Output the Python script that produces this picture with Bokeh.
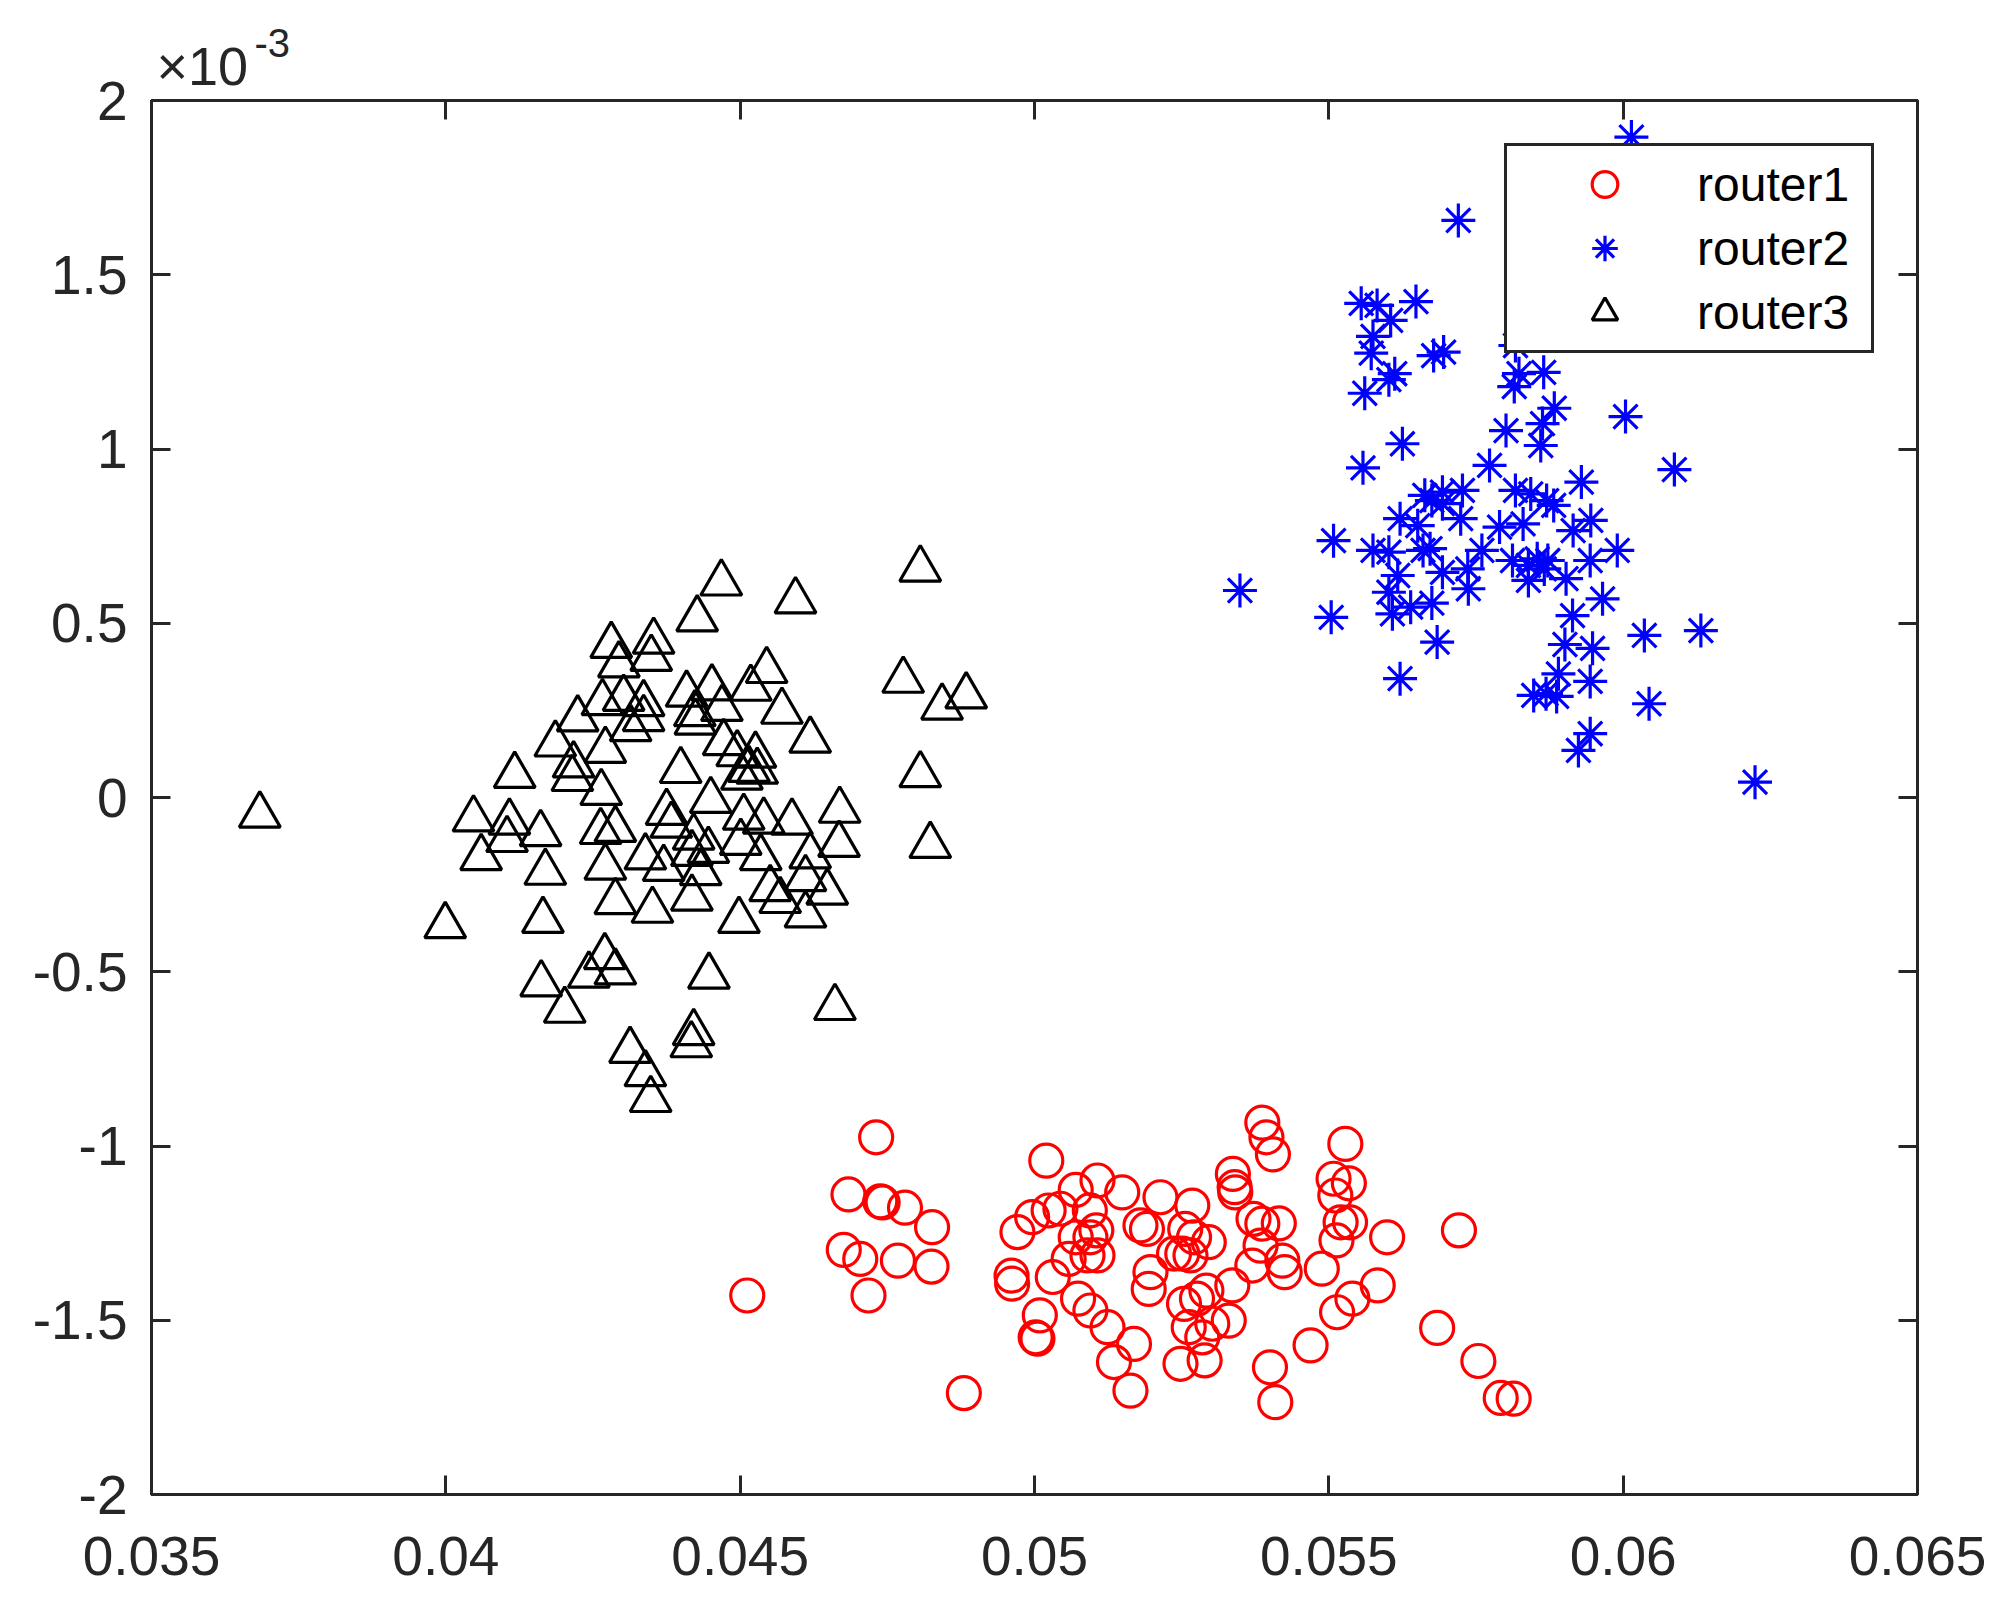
from bokeh.plotting import figure
from bokeh.models import (Range1d, FixedTicker, LinearAxis, Label, Legend, LegendItem,
                          CustomJSTickFormatter)
from bokeh.embed import file_html
from bokeh.resources import INLINE

# ---- data (y values are in units of 1e-3, as on the axis) ----
router1_x = [0.04731, 0.04684, 0.04738, 0.04742, 0.04780, 0.04826, 0.04676, 0.04704, 0.04768, 0.04825,
             0.04512, 0.04718, 0.04880, 0.05020, 0.05070, 0.05107, 0.05149, 0.05044, 0.05024, 0.04996,
             0.04971, 0.05094, 0.05070, 0.05105, 0.05095, 0.05058, 0.05090, 0.05107, 0.04961, 0.04962,
             0.05031, 0.05074, 0.05095, 0.05009, 0.05002, 0.05005, 0.05124, 0.05169, 0.05135, 0.05163,
             0.05387, 0.05394, 0.05405, 0.05528, 0.05337, 0.05340, 0.05341, 0.05508, 0.05534, 0.05511,
             0.05214, 0.05268, 0.05180, 0.05191, 0.05256, 0.05271, 0.05296, 0.05372, 0.05387, 0.05415,
             0.05384, 0.05520, 0.05536, 0.05513, 0.05599, 0.05721, 0.05237, 0.05251, 0.05265, 0.05197,
             0.05194, 0.05370, 0.05421, 0.05425, 0.05488, 0.05336, 0.05254, 0.05276, 0.05292, 0.05330,
             0.05262, 0.05285, 0.05302, 0.05248, 0.05289, 0.05400, 0.05409, 0.05469, 0.05514, 0.05540,
             0.05583, 0.05684, 0.05754, 0.05792, 0.05814]
router1_y = [-0.975, -1.139, -1.159, -1.162, -1.177, -1.233, -1.298, -1.324, -1.329, -1.346,
             -1.429, -1.429, -1.709, -1.042, -1.126, -1.099, -1.133, -1.180, -1.185, -1.204,
             -1.247, -1.185, -1.262, -1.242, -1.262, -1.324, -1.314, -1.314, -1.372, -1.395,
             -1.376, -1.438, -1.472, -1.486, -1.549, -1.553, -1.520, -1.568, -1.620, -1.702,
             -0.933, -0.975, -1.024, -0.994, -1.080, -1.118, -1.133, -1.094, -1.107, -1.142,
             -1.147, -1.171, -1.228, -1.238, -1.238, -1.262, -1.276, -1.209, -1.223, -1.222,
             -1.286, -1.219, -1.219, -1.271, -1.262, -1.242, -1.309, -1.309, -1.314, -1.362,
             -1.410, -1.343, -1.329, -1.362, -1.352, -1.400, -1.453, -1.438, -1.415, -1.501,
             -1.520, -1.549, -1.510, -1.625, -1.615, -1.635, -1.735, -1.572, -1.477, -1.438,
             -1.400, -1.522, -1.617, -1.723, -1.725]

router2_x = [0.05720, 0.05555, 0.05582, 0.05648, 0.05605, 0.05575, 0.05572, 0.05678, 0.05695, 0.05612,
             0.05602, 0.05561, 0.05823, 0.05815, 0.05865, 0.05625, 0.05558, 0.05801, 0.05773, 0.05727,
             0.05817, 0.05863, 0.05860, 0.05883, 0.06004, 0.06087, 0.05929, 0.05843, 0.05882, 0.06014,
             0.05817, 0.05693, 0.05663, 0.05675, 0.05693, 0.05870, 0.05621, 0.05724, 0.05651, 0.05790,
             0.05830, 0.05915, 0.05945, 0.05508, 0.05575, 0.05602, 0.05660, 0.05672, 0.05760, 0.05990,
             0.05944, 0.05812, 0.05839, 0.05854, 0.05866, 0.05872, 0.05617, 0.05693, 0.05736, 0.05839,
             0.05903, 0.05965, 0.05602, 0.05737, 0.05639, 0.05608, 0.05675, 0.05349, 0.05504, 0.05914,
             0.05684, 0.06036, 0.06132, 0.05901, 0.05948, 0.05621, 0.05890, 0.05944, 0.05848, 0.05869,
             0.05887, 0.06044, 0.05944, 0.05924, 0.06224]
router2_y = [1.656, 1.418, 1.412, 1.423, 1.369, 1.323, 1.275, 1.268, 1.278, 1.216,
             1.199, 1.160, 1.216, 1.179, 1.220, 1.015, 0.946, 1.053, 0.953, 0.881,
             0.881, 1.073, 1.010, 1.117, 1.093, 0.941, 0.905, 0.871, 0.838, 1.895,
             1.297, 0.876, 0.867, 0.852, 0.843, 0.852, 0.800, 0.800, 0.780, 0.776,
             0.785, 0.766, 0.795, 0.737, 0.709, 0.704, 0.709, 0.714, 0.709, 0.709,
             0.680, 0.680, 0.666, 0.685, 0.656, 0.680, 0.637, 0.646, 0.656, 0.623,
             0.628, 0.570, 0.589, 0.599, 0.546, 0.527, 0.558, 0.594, 0.517, 0.522,
             0.446, 0.465, 0.479, 0.439, 0.428, 0.341, 0.355, 0.333, 0.293, 0.298,
             0.290, 0.269, 0.183, 0.135, 0.044]

router3_x = [0.03684, 0.04117, 0.04047, 0.04108, 0.04104, 0.04161, 0.04281, 0.04294, 0.04266, 0.04302,
             0.04224, 0.04186, 0.04217, 0.04215, 0.04271, 0.04264, 0.04263, 0.04288, 0.04353, 0.04349,
             0.04336, 0.04314, 0.04336, 0.04060, 0.04169, 0.04271, 0.04288, 0.04351, 0.04339, 0.04375,
             0.04165, 0.04468, 0.04594, 0.04427, 0.04806, 0.04545, 0.04452, 0.04409, 0.04518, 0.04571,
             0.04423, 0.04472, 0.04526, 0.04495, 0.04515, 0.04529, 0.04619, 0.04399, 0.04777, 0.04843,
             0.04884, 0.04806, 0.04669, 0.04668, 0.04823, 0.04450, 0.04506, 0.04540, 0.04588, 0.04501,
             0.04469, 0.04424, 0.04503, 0.04421, 0.04446, 0.04418, 0.04535, 0.04619, 0.04551, 0.04568,
             0.04648, 0.04611, 0.04498, 0.04611, 0.03999, 0.04162, 0.04202, 0.04243, 0.04270, 0.04288,
             0.04447, 0.04661, 0.04313, 0.04339, 0.04348, 0.04421, 0.04417, 0.04433, 0.04418, 0.04370,
             0.04383]
router3_y = [-0.051, 0.063, -0.062, -0.071, -0.121, -0.104, 0.436, 0.380, 0.272, 0.284,
             0.225, 0.153, 0.093, 0.054, 0.135, 0.014, -0.098, -0.092, 0.448, 0.399,
             0.269, 0.197, 0.226, -0.173, -0.215, -0.200, -0.299, -0.324, -0.171, -0.043,
             -0.353, 0.615, 0.564, 0.512, 0.655, 0.364, 0.314, 0.296, 0.313, 0.247,
             0.240, 0.157, 0.121, 0.125, 0.080, 0.075, 0.164, 0.077, 0.336, 0.259,
             0.291, 0.065, -0.037, -0.135, -0.138, -0.009, -0.057, -0.068, -0.071, -0.129,
             0.255, 0.216, 0.058, -0.114, -0.152, -0.289, -0.173, -0.168, -0.262, -0.296,
             -0.272, -0.233, -0.353, -0.337, -0.368, -0.535, -0.611, -0.510, -0.457, -0.501,
             -0.513, -0.603, -0.726, -0.793, -0.867, -0.675, -0.710, -0.216, -0.161, -0.204,
             -0.080]

series_names = ["router1", "router2", "router3"]
x_ticks = [0.035, 0.04, 0.045, 0.05, 0.055, 0.06, 0.065]
x_tick_labels = ["0.035", "0.04", "0.045", "0.05", "0.055", "0.06", "0.065"]
y_ticks = [-2, -1.5, -1, -0.5, 0, 0.5, 1, 1.5, 2]
y_tick_labels = ["-2", "-1.5", "-1", "-0.5", "0", "0.5", "1", "1.5", "2"]
y_exponent_text = ["\u00d710", "-3"]

AX = "#262626"
FONT = "Liberation Sans"
FW, FH = 1766, 1394

p = figure(frame_width=FW, frame_height=FH,
           min_border_left=151, min_border_right=80, min_border_top=100, min_border_bottom=100,
           x_range=Range1d(0.035, 0.065), y_range=Range1d(-2, 2),
           output_backend="svg", toolbar_location=None)
p.background_fill_color = "white"
p.border_fill_color = "white"
p.outline_line_color = AX
p.outline_line_width = 3
p.grid.visible = False

def fmt(vals, labels):
    return CustomJSTickFormatter(args=dict(vals=vals, labels=labels), code="""
        for (let i = 0; i < vals.length; i++) {
            if (Math.abs(vals[i] - tick) < 1e-9) return labels[i];
        }
        return String(tick);
    """)

def style_axis(ax, show_labels, standoff=0):
    ax.axis_line_color = AX
    ax.axis_line_width = 3
    ax.major_tick_line_color = AX
    ax.major_tick_line_width = 3
    ax.major_tick_in = 19
    ax.major_tick_out = 0
    ax.minor_tick_line_color = None
    ax.major_label_text_font = FONT
    ax.major_label_text_color = AX
    ax.major_label_standoff = standoff
    if show_labels:
        ax.major_label_text_font_size = "55px"
    else:
        ax.major_label_text_font_size = "0px"
        ax.major_label_text_alpha = 0

xa = p.xaxis[0]
xa.ticker = FixedTicker(ticks=x_ticks)
xa.formatter = fmt(x_ticks, x_tick_labels)
style_axis(xa, True, 42)
ya = p.yaxis[0]
ya.ticker = FixedTicker(ticks=y_ticks)
ya.formatter = fmt(y_ticks, y_tick_labels)
style_axis(ya, True, 24)

top_ax = LinearAxis(ticker=FixedTicker(ticks=x_ticks))
style_axis(top_ax, False, 0)
p.add_layout(top_ax, "above")
right_ax = LinearAxis(ticker=FixedTicker(ticks=y_ticks))
style_axis(right_ax, False, 0)
p.add_layout(right_ax, "right")

r1 = p.scatter(router1_x, router1_y, marker="circle", size=33, fill_alpha=0,
               line_color="#FF0000", line_width=3.2)
r2 = p.scatter(router2_x, router2_y, marker="asterisk", size=34,
               line_color="#0000FF", line_width=3.2)
r3 = p.scatter(router3_x, router3_y, marker="triangle", size=41, fill_alpha=0,
               line_color="#000000", line_width=3.2)

legend = Legend(items=[LegendItem(label=series_names[0], renderers=[r1]),
                       LegendItem(label=series_names[1], renderers=[r2]),
                       LegendItem(label=series_names[2], renderers=[r3])],
                location="top_right", margin=43, padding=6, spacing=0,
                glyph_width=183, glyph_height=64, label_standoff=1,
                label_width=168, label_height=20,
                label_text_font=FONT, label_text_font_size="48px", label_text_color="#000000",
                border_line_color=AX, border_line_width=3, border_line_alpha=1.0,
                background_fill_color="white", background_fill_alpha=1.0)
p.add_layout(legend)

# exponent of the y axis, placed in the panel above the frame (not clipped)
p.add_layout(Label(x=x_ticks[0], y=0, x_units="data", y_units="screen",
                   x_offset=5, y_offset=35, text=y_exponent_text[0],
                   text_font=FONT, text_font_size="54px", text_color=AX,
                   text_baseline="alphabetic", text_align="left"), "above")
p.add_layout(Label(x=x_ticks[0], y=0, x_units="data", y_units="screen",
                   x_offset=103, y_offset=-2, text=y_exponent_text[1],
                   text_font=FONT, text_font_size="40px", text_color=AX,
                   text_baseline="alphabetic", text_align="left"), "above")

open("out.html", "w").write(file_html(p, INLINE))
